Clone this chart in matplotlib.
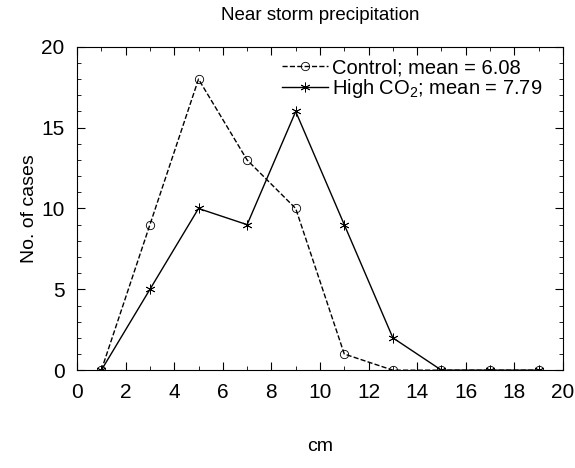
import matplotlib
matplotlib.use("Agg")
import matplotlib.pyplot as plt
from matplotlib.ticker import MultipleLocator

plt.rcParams['font.family'] = ['Liberation Sans', 'DejaVu Sans']
plt.rcParams['mathtext.fontset'] = 'custom'
plt.rcParams['mathtext.rm'] = 'Liberation Sans'

# precipitation bins (cm) and number of cases
cm = [1, 3, 5, 7, 9, 11, 13, 15, 17, 19]
control = [0, 9, 18, 13, 10, 1, 0, 0, 0, 0]
high_co2 = [0, 5, 10, 9, 16, 9, 2, 0, 0, 0]

fig = plt.figure(figsize=(5.75, 4.68), dpi=100)
ax = fig.add_axes([0.134, 0.209, 0.845, 0.691])

ax.plot(cm, control, color='black', ls='--', lw=1.0, marker='o', ms=6,
        mfc='none', mec='black', mew=0.6, label='Control; mean = 6.08')
ax.plot(cm, high_co2, color='black', ls='-', lw=1.0, marker=(6, 2, 0), ms=7,
        mew=0.6, label='High CO$_2$; mean = 7.79')

ax.set_xlim(0, 20)
ax.set_ylim(0, 20)
ax.xaxis.set_major_locator(MultipleLocator(2))
ax.xaxis.set_minor_locator(MultipleLocator(1))
ax.yaxis.set_major_locator(MultipleLocator(5))
ax.yaxis.set_minor_locator(MultipleLocator(1))
ax.tick_params(which='both', direction='in', top=True, right=True, labelsize=15)
ax.tick_params(which='major', length=6)
ax.tick_params(which='minor', length=3)
ax.tick_params(axis='x', pad=9)
ax.tick_params(axis='y', pad=9)

ax.set_title('Near storm precipitation', fontsize=13.5, pad=19)
ax.set_xlabel('cm', fontsize=14, labelpad=26)
ax.set_ylabel('No. of cases', fontsize=14, labelpad=2)

ax.legend(loc='upper right', bbox_to_anchor=(0.975, 0.99), frameon=False,
          fontsize=14.5, handlelength=2.3, handletextpad=0.2, borderaxespad=0,
          labelspacing=0.0)

fig.savefig('out.png', dpi=100)
